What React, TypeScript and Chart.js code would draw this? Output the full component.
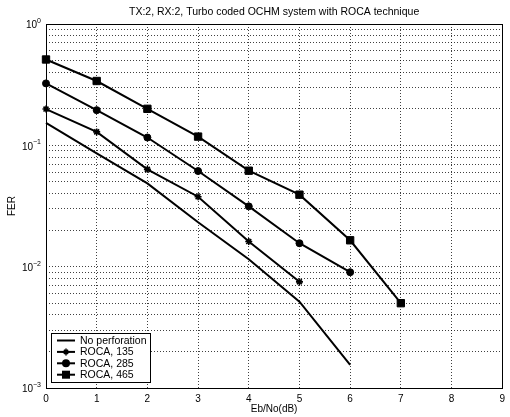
import React, { useEffect, useRef } from 'react';
import { Chart, registerables } from 'chart.js';

Chart.register(...registerables);

const titleText = 'TX:2, RX:2, Turbo coded OCHM system with ROCA technique';
const xAxisTitle = 'Eb/No(dB)';
const yAxisTitle = 'FER';

const ebNo = [0, 1, 2, 3, 4, 5, 6, 7];
const noPerforation = [0.153, 0.086, 0.0486, 0.0232, 0.0115, 0.00515, 0.00155];
const roca135 = [0.199, 0.129, 0.0634, 0.0377, 0.0161, 0.0075];
const roca285 = [0.324, 0.195, 0.116, 0.0614, 0.0314, 0.0156, 0.009];
const roca465 = [0.51, 0.339, 0.2, 0.118, 0.0618, 0.0392, 0.0165, 0.005];

const seriesNames = ['No perforation', 'ROCA, 135', 'ROCA, 285', 'ROCA, 465'];
const seriesMarkers = ['none', 'star', 'circle', 'rect'];

const xMin = 0;
const xMax = 9;
const yDecades = [-3, -2, -1, 0];
const yMinorMultipliers = [1, 2, 3, 4, 5, 6, 7, 8, 9];

const FONT = '"Liberation Sans", Arial, Helvetica, sans-serif';

const toPoints = (vals: number[]) => vals.map((v, i) => ({ x: ebNo[i], y: v }));

function drawMarker(ctx: CanvasRenderingContext2D, style: string, x: number, y: number) {
  ctx.save();
  ctx.fillStyle = '#000';
  ctx.strokeStyle = '#000';
  if (style === 'circle') {
    ctx.beginPath();
    ctx.arc(x, y, 4, 0, Math.PI * 2);
    ctx.fill();
  } else if (style === 'rect') {
    ctx.fillRect(x - 4, y - 4, 8, 8);
  } else if (style === 'star') {
    ctx.lineWidth = 1.5;
    const r = 3.5;
    ctx.beginPath();
    ctx.moveTo(x - r, y);
    ctx.lineTo(x + r, y);
    ctx.moveTo(x, y - r);
    ctx.lineTo(x, y + r);
    const d = r * 0.6;
    ctx.moveTo(x - d, y - d);
    ctx.lineTo(x + d, y + d);
    ctx.moveTo(x - d, y + d);
    ctx.lineTo(x + d, y - d);
    ctx.stroke();
  }
  ctx.restore();
}

const matlabPlugin = {
  id: 'matlabDecor',
  afterDraw(chart: any) {
    const { ctx, chartArea } = chart;
    const { left, right, top, bottom } = chartArea;
    const yScale = chart.scales.y;

    // axes box
    ctx.save();
    ctx.strokeStyle = '#000';
    ctx.lineWidth = 1;
    ctx.strokeRect(Math.round(left) + 0.5, Math.round(top) + 0.5, Math.round(right - left), Math.round(bottom - top));
    ctx.restore();

    // title
    ctx.save();
    ctx.fillStyle = '#000';
    ctx.font = `10.5px ${FONT}`;
    ctx.textAlign = 'center';
    ctx.textBaseline = 'middle';
    ctx.fillText(titleText, (left + right) / 2, 12);
    ctx.restore();

    // y tick labels as 10^e
    ctx.save();
    ctx.fillStyle = '#000';
    for (const e of yDecades) {
      const y = yScale.getPixelForValue(Math.pow(10, e));
      const expText = e < 0 ? '\u2212' + Math.abs(e) : String(e);
      ctx.font = `7px ${FONT}`;
      const ew = ctx.measureText(expText).width;
      ctx.font = `10px ${FONT}`;
      const bw = ctx.measureText('10').width;
      const xr = left - 5;
      ctx.textAlign = 'left';
      ctx.textBaseline = 'middle';
      ctx.fillText('10', xr - ew - bw, y + 1.5);
      ctx.font = `7px ${FONT}`;
      ctx.fillText(expText, xr - ew, y - 3);
    }
    ctx.restore();

    // legend
    const lx = left + 5;
    const lw = 99;
    const lh = 49;
    const ly = bottom - 6 - lh;
    ctx.save();
    ctx.fillStyle = '#fff';
    ctx.fillRect(lx, ly, lw, lh);
    ctx.strokeStyle = '#000';
    ctx.lineWidth = 1;
    ctx.strokeRect(Math.round(lx) + 0.5, Math.round(ly) + 0.5, lw, lh);
    ctx.font = `10.5px ${FONT}`;
    ctx.textBaseline = 'middle';
    ctx.textAlign = 'left';
    seriesNames.forEach((name, i) => {
      const ry = ly + 7.5 + i * 11.4;
      ctx.strokeStyle = '#000';
      ctx.lineWidth = 2;
      ctx.beginPath();
      ctx.moveTo(lx + 6, ry);
      ctx.lineTo(lx + 24, ry);
      ctx.stroke();
      drawMarker(ctx, seriesMarkers[i], lx + 15, ry);
      ctx.fillStyle = '#000';
      ctx.fillText(name, lx + 29, ry + 0.5);
    });
    ctx.restore();
  },
};

export default function App() {
  const canvasRef = useRef<HTMLCanvasElement | null>(null);

  useEffect(() => {
    if (!canvasRef.current) return;
    const yTickValues: number[] = [];
    for (const e of yDecades) {
      for (const m of yMinorMultipliers) {
        const v = m * Math.pow(10, e);
        if (v <= 1.0000001) yTickValues.push(v);
      }
    }
    const common = {
      borderColor: '#000',
      backgroundColor: '#000',
      borderWidth: 2,
      pointBackgroundColor: '#000',
      pointBorderColor: '#000',
      fill: false,
      tension: 0,
      clip: false,
    };
    const chart = new Chart(canvasRef.current, {
      type: 'line',
      data: {
        datasets: [
          { ...common, label: seriesNames[0], data: toPoints(noPerforation), pointRadius: 0 },
          { ...common, label: seriesNames[1], data: toPoints(roca135), pointStyle: 'star', pointRadius: 3.5, pointBorderWidth: 1.6 },
          { ...common, label: seriesNames[2], data: toPoints(roca285), pointStyle: 'circle', pointRadius: 3.5, pointBorderWidth: 1 },
          { ...common, label: seriesNames[3], data: toPoints(roca465), pointStyle: 'rect', pointRadius: 5.2, pointBorderWidth: 1 },
        ],
      } as any,
      options: {
        animation: false,
        responsive: false,
        maintainAspectRatio: false,
        layout: { padding: { top: 24, right: 3, left: 0, bottom: 0 } },
        plugins: { legend: { display: false }, title: { display: false }, tooltip: { enabled: false } },
        scales: {
          x: {
            type: 'linear',
            min: xMin,
            max: xMax,
            ticks: { stepSize: 1, padding: 5, color: '#000', font: { family: FONT, size: 10 } },
            grid: { color: 'rgba(0,0,0,0.75)', lineWidth: 1, drawTicks: false },
            border: { display: false, dash: [1, 2] },
            title: { display: true, text: xAxisTitle, color: '#000', font: { family: FONT, size: 10 }, padding: { top: 0, bottom: 2 } },
            afterFit: (s: any) => { s.height = 29; },
          },
          y: {
            type: 'logarithmic',
            min: 0.001,
            max: 1,
            afterBuildTicks: (s: any) => { s.ticks = yTickValues.map((v) => ({ value: v })); },
            ticks: { display: false, autoSkip: false },
            grid: { color: 'rgba(0,0,0,0.75)', lineWidth: 1, drawTicks: false },
            border: { display: false, dash: [1, 2] },
            title: { display: true, text: yAxisTitle, color: '#000', font: { family: FONT, size: 10 }, padding: { top: 6, bottom: 0 } },
            afterFit: (s: any) => { s.width = 46; },
          },
        },
      } as any,
      plugins: [matlabPlugin],
    });
    return () => chart.destroy();
  }, []);

  return (
    <div style={{ position: 'absolute', left: 0, top: 0, width: 510, height: 417, background: '#fff' }}>
      <canvas ref={canvasRef} width={510} height={417} style={{ display: 'block' }} />
    </div>
  );
}
